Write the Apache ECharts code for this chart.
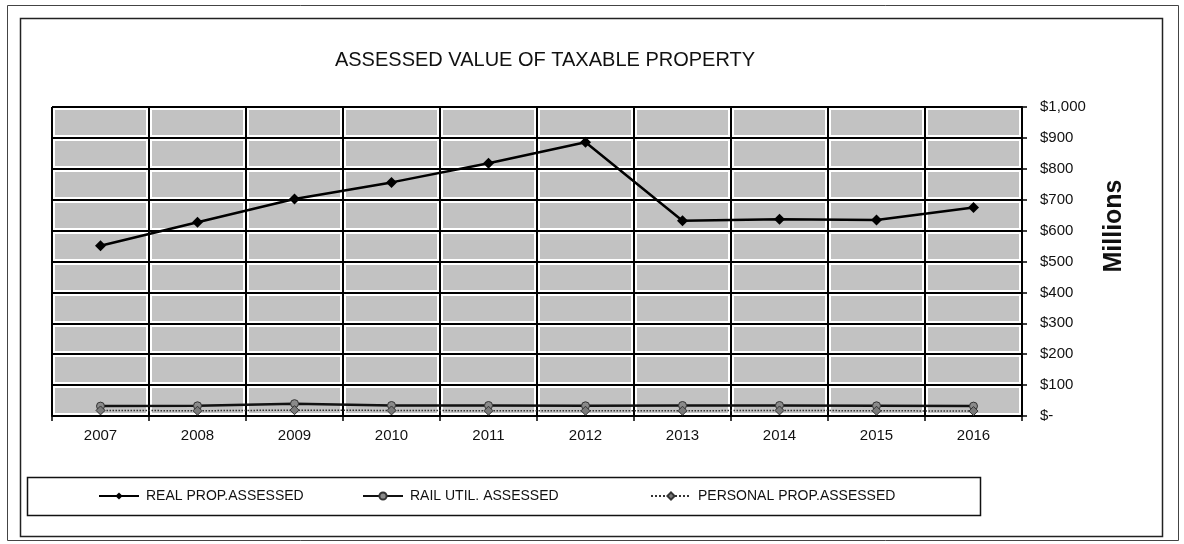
<!DOCTYPE html>
<html>
<head>
<meta charset="utf-8">
<style>
  html, body { margin: 0; padding: 0; background: #ffffff; }
  #chart { width: 1184px; height: 544px; }
</style>
<script src="https://cdn.jsdelivr.net/npm/echarts@6/dist/echarts.min.js"></script>
</head>
<body>
<div id="chart"></div>
<script>
// Assessed value of taxable property, in millions of dollars
const years = ['2007', '2008', '2009', '2010', '2011', '2012', '2013', '2014', '2015', '2016'];
const realProp = [551, 627, 702, 756, 818, 886, 632, 637, 634, 675];
const railUtil = [32, 33, 40, 34, 34, 33, 34, 34, 33, 32];
const personalProp = [18, 17, 19, 18, 17, 17, 17, 18, 17, 16];
const seriesNames = ['REAL PROP.ASSESSED', 'RAIL UTIL. ASSESSED', 'PERSONAL PROP.ASSESSED'];

const FONT = '"Liberation Sans", Arial, sans-serif';

const chart = echarts.init(document.getElementById('chart'), null, { renderer: 'canvas' });

function moneyLabel(v) {
  if (v === 0) return '$-';
  return '$' + v.toLocaleString('en-US');
}

const legendBase = {
  top: 489,
  itemWidth: 40,
  itemHeight: 9,
  itemGap: 0,
  padding: 0,
  textStyle: { fontFamily: FONT, fontSize: 14, color: '#111', padding: [0, 0, 0, 2] },
  selectedMode: false
};

chart.setOption({
  animation: false,
  backgroundColor: '#ffffff',
  title: {
    text: 'ASSESSED VALUE OF TAXABLE PROPERTY',
    left: 540,
    textAlign: 'center',
    top: 45,
    textStyle: { fontFamily: FONT, fontSize: 20, fontWeight: 'normal', color: '#111' }
  },
  grid: {
    left: 52, right: 162, top: 107, bottom: 128,
    show: true,
    backgroundColor: '#c2c2c2',
    borderWidth: 0
  },
  legend: [
    Object.assign({}, legendBase, { left: 98, data: [seriesNames[0]] }),
    Object.assign({}, legendBase, { left: 362, data: [seriesNames[1]] }),
    Object.assign({}, legendBase, { left: 650, data: [seriesNames[2]] })
  ],
  xAxis: [
    {
      type: 'category',
      data: years,
      boundaryGap: true,
      z: 3,
      axisLine: { show: true, lineStyle: { color: '#000', width: 2 } },
      axisTick: { show: true, length: 5, lineStyle: { color: '#000', width: 1.5 } },
      axisLabel: { margin: 12, fontFamily: FONT, fontSize: 15, color: '#111' },
      splitLine: { show: true, interval: 0, lineStyle: { color: '#000', width: 2 } }
    },
    {
      // white halo beneath the vertical grid lines
      type: 'category',
      data: years,
      boundaryGap: true,
      position: 'bottom',
      z: 1,
      axisLine: { show: false },
      axisTick: { show: false },
      axisLabel: { show: false },
      splitLine: { show: true, interval: 0, lineStyle: { color: '#ffffff', width: 6 } }
    }
  ],
  yAxis: [
    {
      type: 'value',
      position: 'right',
      min: 0, max: 1000, interval: 100,
      z: 3,
      axisLine: { show: true, lineStyle: { color: '#000', width: 2 } },
      axisTick: { show: true, length: 5, lineStyle: { color: '#000', width: 1.5 } },
      axisLabel: {
        margin: 18, align: 'left',
        fontFamily: FONT, fontSize: 15, color: '#111',
        formatter: moneyLabel
      },
      splitLine: { show: true, lineStyle: { color: '#000', width: 2 } }
    },
    {
      // white halo beneath the horizontal grid lines
      type: 'value',
      position: 'right',
      min: 0, max: 1000, interval: 100,
      z: 1,
      axisLine: { show: false },
      axisTick: { show: false },
      axisLabel: { show: false },
      splitLine: { show: true, lineStyle: { color: '#ffffff', width: 6 } }
    }
  ],
  series: [
    {
      name: seriesNames[0],
      type: 'line',
      data: realProp,
      z: 5,
      symbol: 'diamond',
      symbolSize: 11,
      itemStyle: { color: '#000' },
      lineStyle: { color: '#000', width: 2.5 }
    },
    {
      name: seriesNames[1],
      type: 'line',
      data: railUtil,
      z: 5,
      symbol: 'circle',
      symbolSize: 8,
      itemStyle: { color: '#8a8a8a', borderColor: '#333', borderWidth: 1 },
      lineStyle: { color: '#111', width: 2.5 }
    },
    {
      name: seriesNames[2],
      type: 'line',
      data: personalProp,
      z: 5,
      symbol: 'diamond',
      symbolSize: 9,
      itemStyle: { color: '#7a7a7a', borderColor: '#333', borderWidth: 1 },
      lineStyle: { color: '#333', width: 1.5, type: 'dotted' }
    }
  ],
  graphic: [
    {
      type: 'rect', silent: true, z: -1,
      shape: { x: 7.5, y: 5.5, width: 1171, height: 535 },
      style: { fill: 'none', stroke: '#444', lineWidth: 1 }
    },
    {
      type: 'rect', silent: true, z: -1,
      shape: { x: 20.5, y: 18.5, width: 1142, height: 518 },
      style: { fill: 'none', stroke: '#222', lineWidth: 1.5 }
    },
    {
      type: 'rect', silent: true, z: -1,
      shape: { x: 27.5, y: 477.5, width: 953, height: 38 },
      style: { fill: 'none', stroke: '#111', lineWidth: 1.5 }
    },
    {
      type: 'text', silent: true,
      x: 1114, y: 226,
      rotation: Math.PI / 2,
      style: {
        text: 'Millions',
        fontFamily: FONT, fontSize: 25, fontWeight: 'bold',
        fill: '#111', align: 'center', verticalAlign: 'middle'
      }
    }
  ]
});
</script>
</body>
</html>
